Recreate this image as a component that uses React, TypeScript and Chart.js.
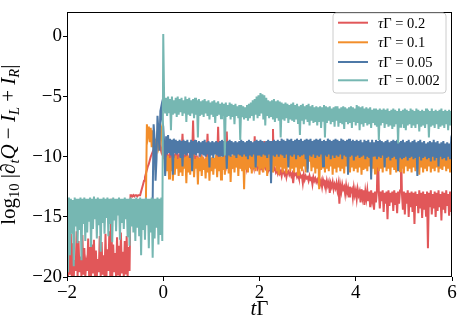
import React, { useEffect, useRef } from 'react';
import { Chart, registerables } from 'chart.js';

Chart.register(...registerables);

// sampling grid of the time axis tΓ
const T_START = -2;
const T_STEP = 0.02;

const xTickValues = [-2, 0, 2, 4, 6];
const yTickValues = [-20, -15, -10, -5, 0];
const seriesLabels = ['0.2', '0.1', '0.05', '0.002'];
const seriesColors = ['#e15759', '#f28e2b', '#4e79a7', '#76b7b2'];

// τΓ = 0.2
const red: (number | null)[] = [
  -17.4, -20.0, -18.0, -19.8, -16.4, -20.0, -17.2, -20.0, -18.6, -19.5, -16.2, -20.0, -17.0, -19.6, -18.3, -20.0, -16.5, -19.8, -17.6, -20.0,
  -18.9, -19.5, -16.8, -20.0, -17.5, -20.0, -17.3, -19.7, -16.9, -20.0, -17.8, -20.0, -18.5, -19.6, -16.6, -20.0, -17.1, -19.8, -18.2, -20.0,
  -16.4, -20.0, -17.7, -19.5, -16.2, -20.0, -13.5, -20.0, -17.3, -19.6, -18.0, -20.0, -16.7, -19.8, -17.4, -20.0, -16.3, -19.7, -17.9, -20.0,
  -17.0, -19.8, -16.6, -20.0, -17.5, -19.5, -13.2, -13.2, -13.3, -13.2, -13.3, -13.2, -13.2, -13.3, -13.2, -13.2, -13.2, -12.9, -12.6, -12.3,
  -12.0, -11.7, -11.4, -11.1, -10.8, -10.6, -10.3, -10.0, -9.8, -9.6, -9.4, -9.2, -9.1, -9.0, -8.9, -8.8, -8.7, -9.3, -9.6, -9.2,
  -8.5, -9.8, -10.2, -9.6, -10.4, -9.9, -10.1, -9.7, -10.3, -9.8, -10.2, -9.9, -10.0, -9.7, -10.4, -9.8, -10.1, -9.9, -10.3, -9.7,
  -8.1, -10.0, -10.2, -9.9, -10.4, -9.8, -10.1, -10.3, -9.9, -10.4, -10.0, -7.0, -10.2, -10.3, -9.9, -10.4, -10.1, -10.5, -10.2, -10.3,
  -10.0, -10.4, -10.2, -10.5, -10.3, -10.1, -8.1, -10.4, -10.2, -10.6, -10.3, -10.5, -10.2, -10.4, -10.6, -10.3, -10.5, -7.5, -10.4, -10.6,
  -10.3, -10.5, -10.2, -10.6, -10.4, -10.7, -7.9, -10.5, -10.6, -10.4, -10.7, -10.5, -10.8, -10.6, -10.5, -10.7, -10.6, -10.8, -10.7, -10.6,
  -10.8, -10.6, -10.9, -10.7, -10.6, -10.8, -10.7, -10.9, -10.6, -10.8, -10.7, -10.9, -10.8, -10.6, -10.9, -8.3, -10.8, -10.7, -11.0, -10.8,
  -10.9, -11.0, -10.8, -11.1, -10.9, -8.7, -11.0, -11.1, -10.9, -11.2, -11.0, -11.1, -11.3, -10.9, -7.7, -11.1, -11.0, -11.3, -11.1, -11.4,
  -11.1, -11.4, -11.2, -11.6, -11.1, -11.3, -11.5, -11.2, -11.7, -11.3, -11.2, -11.5, -11.3, -11.6, -11.4, -12.2, -11.3, -11.5, -11.4, -11.7,
  -11.5, -11.8, -11.4, -11.7, -11.6, -12.2, -11.5, -11.9, -11.6, -11.8, -11.7, -12.0, -11.6, -11.9, -11.8, -12.3, -11.7, -12.0, -11.8, -12.1,
  -11.9, -12.2, -11.8, -12.3, -12.0, -12.5, -11.9, -12.2, -12.1, -12.6, -12.0, -12.4, -12.1, -13.0, -12.2, -12.5, -12.1, -12.7, -12.3, -12.6,
  -12.2, -12.8, -12.3, -13.9, -12.4, -12.9, -12.3, -12.7, -12.5, -13.1, -12.4, -13.0, -12.6, -13.3, -12.5, -12.9, -12.7, -13.4, -12.6, -13.2,
  -12.8, -13.5, -12.7, -13.2, -12.9, -13.8, -12.7, -13.4, -12.8, -14.0, -12.9, -13.5, -12.8, -13.7, -12.9, -14.2, -12.8, -13.6, -13.0, -14.4,
  -12.9, -13.8, -12.8, -8.9, -13.0, -14.3, -12.9, -13.7, -12.8, -14.6, -13.0, -13.9, -12.9, -15.2, -12.8, -14.1, -13.0, -13.8, -12.9, -14.5,
  -12.8, -14.0, -13.0, -14.7, -12.9, -13.9, -12.8, -8.9, -13.1, -14.4, -12.9, -14.8, -13.0, -13.9, -12.8, -15.0, -13.0, -14.2, -12.9, -14.6,
  -13.0, -15.6, -12.9, -14.1, -13.1, -14.7, -12.8, -14.3, -13.0, -15.1, -12.9, -14.4, -13.1, -14.9, -12.9, -17.6, -13.0, -14.2, -12.8, -14.8,
  -13.1, -14.3, -12.9, -15.0, -13.0, -14.5, -12.8, -14.2, -13.1, -15.3, -12.9, -14.4, -13.0, -14.7, -12.8, -14.1, -13.1, -14.9, -12.9, -14.6,
  -13.2,
];

// τΓ = 0.1
const orange: (number | null)[] = [
  null, null, null, null, null, null, null, null, null, null, null, null, null, null, null, null, null, null, null, null,
  null, null, null, null, null, null, null, null, null, null, null, null, null, null, null, null, null, null, null, null,
  null, null, null, null, null, null, null, null, null, null, null, null, null, null, null, null, null, null, null, null,
  null, null, null, null, null, null, null, null, null, null, null, null, null, null, null, null, null, null, null, null,
  null, null, -13.6, -7.3, -8.2, -7.5, -8.8, -7.6, -9.2, -7.8, -9.4, -8.5, -11.1, -8.6, -8.1, -9.3, -9.0, -8.2, -7.8, -9.0,
  -10.2, -9.2, -11.4, -10.0, -11.2, -9.9, -11.8, -10.1, -11.2, -10.0, -12.0, -10.1, -11.5, -9.9, -11.0, -10.2, -11.6, -10.0, -11.3, -9.9,
  -11.6, -10.1, -11.0, -10.0, -12.2, -9.9, -11.3, -10.1, -11.5, -10.0, -11.1, -9.8, -11.7, -10.2, -11.0, -10.0, -12.3, -10.1, -11.2, -9.9,
  -11.6, -10.0, -11.1, -10.2, -11.8, -10.0, -11.3, -9.9, -12.0, -10.1, -11.2, -10.0, -11.5, -10.1, -11.0, -9.8, -11.7, -10.0, -11.2, -9.9,
  -11.9, -10.0, -11.1, -9.7, -11.5, -10.0, -11.0, -9.8, -11.4, -9.7, -12.1, -9.9, -11.0, -9.6, -11.3, -9.8, -10.9, -9.6, -11.6, -9.7,
  -11.0, -9.5, -11.2, -9.7, -12.7, -9.6, -11.0, -9.8, -11.3, -9.5, -10.9, -9.7, -11.4, -9.6, -11.0, -9.5, -11.2, -9.8, -10.8, -9.6,
  -11.5, -9.7, -11.0, -9.5, -11.3, -9.7, -10.9, -9.6, -11.6, -9.5, -11.1, -9.8, -11.0, -9.0, -11.3, -9.6, -10.8, -9.7, -11.2, -9.5,
  -11.5, -9.6, -10.9, -9.4, -11.3, -9.6, -11.0, -9.7, -11.4, -9.5, -10.8, -9.6, -11.2, -9.5, -11.0, -9.7, -11.3, -9.4, -10.9, -9.6,
  -11.5, -9.5, -11.0, -9.6, -11.2, -9.5, -10.8, -9.7, -11.3, -9.6, -11.0, -9.5, -10.4, -9.6, -11.2, -9.5, -10.9, -9.4, -11.4, -9.6,
  -11.0, -9.5, -12.7, -9.6, -11.1, -9.4, -10.9, -9.6, -11.3, -9.5, -11.0, -9.7, -11.2, -9.4, -10.8, -9.6, -11.5, -9.5, -11.0, -9.6,
  -11.3, -9.5, -10.9, -9.7, -11.2, -9.4, -11.0, -9.6, -11.4, -9.5, -10.8, -9.6, -11.1, -9.5, -11.3, -9.7, -10.9, -9.5, -11.2, -9.4,
  -11.0, -9.6, -11.3, -9.5, -10.9, -9.7, -11.5, -9.4, -11.1, -9.6, -11.0, -9.0, -11.2, -9.5, -10.8, -9.6, -11.3, -9.4, -11.0, -9.6,
  -11.4, -9.5, -10.9, -9.6, -11.2, -9.4, -11.0, -9.7, -11.3, -9.5, -10.8, -9.6, -11.2, -9.4, -11.0, -9.6, -11.5, -9.5, -10.9, -9.7,
  -11.1, -9.5, -11.3, -9.4, -10.9, -9.6, -11.2, -9.5, -11.0, -9.7, -11.4, -9.5, -10.8, -9.6, -11.2, -9.4, -11.0, -9.6, -11.3, -9.5,
  -10.9, -9.6, -11.2, -9.5, -11.0, -9.4, -11.5, -9.6, -10.9, -9.5, -11.3, -9.6, -11.0, -9.4, -11.2, -9.6, -10.8, -9.5, -11.3, -9.7,
  -11.0, -9.5, -11.2, -9.6, -10.9, -9.4, -11.3, -9.6, -11.0, -9.5, -11.1, -9.7, -10.8, -9.5, -11.2, -9.6, -11.0, -9.4, -11.3, -9.5,
  -10.4,
];

// τΓ = 0.05
const blue: (number | null)[] = [
  null, null, null, null, null, null, null, null, null, null, null, null, null, null, null, null, null, null, null, null,
  null, null, null, null, null, null, null, null, null, null, null, null, null, null, null, null, null, null, null, null,
  null, null, null, null, null, null, null, null, null, null, null, null, null, null, null, null, null, null, null, null,
  null, null, null, null, null, null, null, null, null, null, null, null, null, null, null, null, null, null, null, null,
  null, null, null, null, null, null, null, null, -13.8, -13.6, -7.3, -8.5, -12.0, -10.2, -6.6, -7.8, -9.5, -6.2, -5.8, -7.0,
  -7.5, -9.0, -11.6, -8.3, -9.8, -8.2, -9.6, -8.5, -9.9, -8.6, -11.5, -8.5, -9.7, -8.6, -9.8, -8.7, -9.7, -8.6, -10.1, -8.7,
  -10.8, -8.6, -9.8, -8.7, -9.9, -8.6, -9.7, -8.8, -10.1, -8.6, -11.2, -8.7, -9.8, -8.6, -9.9, -8.8, -9.7, -8.7, -10.0, -8.8,
  -9.8, -8.7, -9.9, -8.6, -10.0, -8.8, -9.8, -8.7, -10.9, -8.8, -9.9, -8.7, -10.1, -8.8, -9.8, -8.7, -9.9, -8.8, -10.0, -8.7,
  -9.9, -8.6, -10.0, -8.7, -9.8, -8.8, -11.0, -8.7, -9.9, -8.6, -10.0, -8.7, -9.8, -8.8, -9.9, -8.7, -10.1, -8.8, -9.8, -8.7,
  -9.9, -8.6, -10.0, -8.7, -9.8, -8.8, -9.9, -8.7, -10.2, -8.6, -9.9, -8.7, -10.0, -8.8, -9.8, -8.7, -10.9, -8.6, -9.9, -8.7,
  -9.9, -8.6, -10.0, -8.7, -9.8, -8.8, -9.9, -8.7, -10.1, -8.6, -9.8, -8.7, -12.2, -8.7, -9.9, -8.6, -10.0, -8.7, -9.8, -8.6,
  -10.0, -8.7, -9.8, -8.5, -9.9, -8.6, -10.1, -8.7, -9.8, -8.5, -10.9, -8.6, -9.9, -8.5, -10.0, -8.7, -9.8, -8.6, -10.2, -8.5,
  -9.8, -8.6, -10.0, -8.5, -9.9, -8.7, -9.8, -8.6, -10.2, -8.5, -11.3, -8.6, -9.9, -8.5, -10.0, -8.7, -9.8, -8.6, -10.1, -8.5,
  -9.9, -8.6, -10.0, -8.5, -9.8, -8.7, -10.8, -8.6, -9.9, -8.7, -10.0, -8.5, -9.8, -8.6, -10.2, -8.7, -9.9, -8.6, -10.1, -8.5,
  -9.9, -8.6, -10.0, -8.7, -9.8, -8.5, -10.2, -8.6, -9.9, -8.7, -10.0, -8.6, -11.5, -8.5, -10.0, -8.7, -9.9, -8.6, -10.3, -8.7,
  -10.0, -8.6, -9.9, -8.7, -10.1, -8.6, -10.0, -8.8, -9.9, -8.6, -10.2, -8.7, -10.0, -8.6, -10.1, -8.8, -11.9, -8.6, -10.0, -8.8,
  -9.9, -8.6, -10.2, -8.7, -10.0, -8.6, -10.1, -8.7, -9.9, -8.8, -10.9, -8.7, -10.1, -8.6, -10.0, -8.8, -10.3, -8.7, -10.1, -8.6,
  -10.0, -8.7, -10.2, -8.6, -11.2, -8.8, -10.0, -8.7, -10.2, -8.6, -10.1, -8.8, -10.0, -8.7, -10.3, -8.6, -10.1, -8.8, -10.0, -8.7,
  -10.2, -8.6, -10.1, -8.8, -11.6, -8.7, -10.0, -8.6, -10.3, -8.8, -10.1, -8.7, -10.0, -8.9, -10.2, -8.8, -10.1, -8.7, -10.4, -8.8,
  -10.0, -8.6, -10.3, -8.8, -10.1, -8.7, -10.8, -8.9, -10.0, -8.8, -10.2, -8.7, -10.1, -8.9, -10.3, -8.8, -10.0, -8.9, -10.2, -8.8,
  -9.2,
];

// τΓ = 0.002
const teal: (number | null)[] = [
  -13.5, -19.6, -13.4, -18.2, -13.5, -16.4, -13.6, -19.1, -13.4, -15.8, -13.5, -17.2, -13.5, -16.1, -13.4, -18.6, -13.5, -15.6, -13.4, -17.0,
  -13.5, -16.3, -13.5, -15.4, -13.4, -17.5, -13.5, -16.0, -13.3, -15.2, -13.5, -16.8, -13.4, -15.7, -13.5, -17.9, -13.5, -15.5, -13.4, -16.4,
  -13.5, -15.1, -13.4, -16.6, -13.5, -15.6, -13.5, -17.1, -13.4, -15.3, -13.5, -16.2, -13.5, -14.8, -13.4, -16.9, -13.5, -15.5, -13.5, -16.0,
  -13.4, -15.2, -13.5, -16.7, -13.5, -17.4, -13.4, -15.8, -13.5, -16.3, -13.5, -17.0, -13.4, -15.9, -13.5, -16.6, -13.4, -18.2, -13.5, -16.1,
  -13.5, -16.9, -13.4, -15.7, -13.5, -17.6, -13.5, -16.3, -13.4, -18.4, -13.5, -16.8, -13.5, -15.9, -13.4, -17.3, -13.5, -16.5, -13.4, -17.0,
  0.2, -5.6, -6.4, -5.1, -6.6, -5.0, -6.3, -5.2, -7.8, -5.0, -6.5, -5.3, -6.4, -5.1, -6.7, -5.0, -6.5, -5.2, -6.3, -5.1,
  -6.6, -5.3, -6.4, -5.0, -7.1, -5.2, -6.5, -5.1, -6.6, -5.3, -6.4, -5.2, -6.8, -5.1, -6.5, -5.3, -8.4, -5.2, -6.6, -5.4,
  -6.5, -5.3, -6.7, -5.2, -6.4, -5.4, -6.6, -5.3, -6.9, -5.5, -6.5, -5.4, -6.7, -5.3, -7.2, -5.5, -6.6, -5.4, -6.5, -5.6,
  -6.8, -5.5, -6.6, -5.6, -9.9, -5.5, -6.7, -5.7, -6.6, -5.5, -6.9, -5.6, -6.7, -5.7, -7.3, -5.6, -6.6, -5.8, -6.8, -5.7,
  -8.6, -5.7, -6.7, -5.8, -6.9, -5.9, -6.7, -5.7, -7.0, -5.6, -6.8, -5.5, -6.6, -5.3, -7.0, -5.2, -6.5, -5.0, -6.8, -4.9,
  -6.6, -4.7, -6.4, -4.8, -6.9, -4.9, -7.4, -5.1, -6.6, -5.3, -6.8, -5.4, -6.7, -5.3, -6.9, -5.2, -7.1, -5.4, -6.8, -5.3,
  -7.0, -5.4, -8.4, -5.5, -6.9, -5.6, -7.0, -5.5, -6.8, -5.6, -7.2, -5.7, -6.9, -5.6, -7.0, -5.5, -7.1, -5.7, -6.9, -5.6,
  -7.2, -5.8, -8.2, -5.7, -7.0, -5.6, -7.3, -5.8, -6.9, -5.7, -7.1, -5.6, -7.4, -5.8, -7.0, -5.7, -7.2, -5.9, -7.1, -5.8,
  -7.4, -5.9, -7.1, -5.8, -7.6, -5.9, -7.0, -5.7, -8.4, -5.8, -7.2, -5.9, -7.0, -5.8, -7.3, -6.0, -7.1, -5.9, -7.5, -5.8,
  -7.0, -5.8, -7.5, -6.0, -7.2, -5.9, -7.3, -5.8, -7.7, -5.9, -7.1, -6.0, -7.3, -5.9, -7.2, -5.8, -7.6, -5.9, -7.1, -6.0,
  -7.4, -5.7, -7.2, -5.8, -7.8, -5.9, -7.3, -5.8, -7.5, -6.0, -7.2, -5.9, -7.4, -6.0, -7.3, -5.9, -7.6, -6.1, -7.2, -6.0,
  -7.3, -6.0, -7.5, -6.1, -8.6, -6.0, -7.4, -6.1, -7.2, -6.0, -7.6, -6.1, -7.3, -6.0, -7.5, -6.2, -7.4, -6.1, -7.7, -6.0,
  -7.5, -6.1, -7.3, -6.2, -8.9, -6.0, -7.5, -6.2, -7.3, -6.1, -7.6, -6.0, -7.8, -6.1, -7.4, -6.2, -7.3, -6.0, -7.6, -6.1,
  -7.4, -6.2, -7.6, -6.0, -7.3, -6.1, -7.9, -6.2, -7.5, -6.1, -7.4, -6.2, -7.6, -6.0, -7.3, -6.1, -8.4, -6.2, -7.5, -6.0,
  -7.4, -6.2, -7.6, -6.1, -7.3, -6.2, -7.7, -6.1, -7.5, -6.0, -7.4, -6.2, -7.6, -6.1, -7.3, -6.2, -7.8, -6.1, -7.4, -6.2,
  -7.0,
];

const FONT = '"Liberation Serif", "DejaVu Serif", serif';

type Piece = { s: string; it?: boolean; sub?: boolean };

function drawRich(ctx: CanvasRenderingContext2D, pieces: Piece[], size: number, subSize: number, subDy: number, x: number, y: number, align: 'center' | 'left') {
  const fontOf = (p: Piece) => `${p.it ? 'italic ' : ''}${p.sub ? subSize : size}px ${FONT}`;
  let total = 0;
  for (const p of pieces) {
    ctx.font = fontOf(p);
    total += ctx.measureText(p.s).width;
  }
  let cx = align === 'center' ? x - total / 2 : x;
  for (const p of pieces) {
    ctx.font = fontOf(p);
    ctx.fillText(p.s, cx, p.sub ? y + subDy : y);
    cx += ctx.measureText(p.s).width;
  }
}

const decorations = {
  id: 'decorations',
  afterDraw(chart: any) {
    const ctx: CanvasRenderingContext2D = chart.ctx;
    const a = chart.chartArea;
    ctx.save();
    // frame
    ctx.strokeStyle = '#000';
    ctx.lineWidth = 1;
    ctx.strokeRect(Math.floor(a.left) + 0.5, Math.floor(a.top) + 0.5, Math.round(a.right - a.left) - 1, Math.round(a.bottom - a.top) - 1);

    ctx.fillStyle = '#000';
    ctx.textBaseline = 'alphabetic';
    // x title
    drawRich(ctx, [{ s: 't', it: true }, { s: 'Γ' }], 21, 14, 4, (a.left + a.right) / 2, 315, 'center');

    // y title
    ctx.save();
    ctx.translate(15, (a.top + a.bottom) / 2);
    ctx.rotate(-Math.PI / 2);
    drawRich(ctx, [
      { s: 'log' }, { s: '10', sub: true }, { s: ' |∂' }, { s: 't', it: true, sub: true },
      { s: 'Q', it: true }, { s: ' − ' }, { s: 'I', it: true }, { s: 'L', it: true, sub: true },
      { s: ' + ' }, { s: 'I', it: true }, { s: 'R', it: true, sub: true }, { s: '|' },
    ], 21, 14.5, 4, 0, 0, 'center');
    ctx.restore();

    // legend
    const lx = 333, ly = 13, lw = 113, lh = 80, r = 3;
    ctx.beginPath();
    ctx.moveTo(lx + r, ly);
    ctx.lineTo(lx + lw - r, ly);
    ctx.quadraticCurveTo(lx + lw, ly, lx + lw, ly + r);
    ctx.lineTo(lx + lw, ly + lh - r);
    ctx.quadraticCurveTo(lx + lw, ly + lh, lx + lw - r, ly + lh);
    ctx.lineTo(lx + r, ly + lh);
    ctx.quadraticCurveTo(lx, ly + lh, lx, ly + lh - r);
    ctx.lineTo(lx, ly + r);
    ctx.quadraticCurveTo(lx, ly, lx + r, ly);
    ctx.closePath();
    ctx.fillStyle = 'rgba(255,255,255,0.8)';
    ctx.fill();
    ctx.strokeStyle = '#cccccc';
    ctx.lineWidth = 1;
    ctx.stroke();

    const rows = [22.7, 42.3, 62, 80.3];
    seriesLabels.forEach((lab, i) => {
      const y = rows[i];
      ctx.strokeStyle = seriesColors[i];
      ctx.lineWidth = 2;
      ctx.beginPath();
      ctx.moveTo(338, y);
      ctx.lineTo(368, y);
      ctx.stroke();
      ctx.fillStyle = '#000';
      drawRich(ctx, [{ s: 'τ', it: true }, { s: 'Γ' }, { s: ' = ' + lab }], 14.5, 10, 3, 378, y + 5, 'left');
    });
    ctx.restore();
  },
};

export default function App() {
  const ref = useRef<HTMLCanvasElement | null>(null);
  useEffect(() => {
    if (!ref.current) return;
    const toPts = (arr: (number | null)[]) =>
      arr.map((v, i) => ({ x: Math.round((T_START + i * T_STEP) * 100) / 100, y: v }));
    const seriesData = [red, orange, blue, teal];
    const order = [3, 2, 1, 0];
    const chart = new Chart(ref.current, {
      type: 'line',
      data: {
        datasets: seriesData.map((arr, i) => ({
          label: 'τΓ = ' + seriesLabels[i],
          data: toPts(arr) as any,
          borderColor: seriesColors[i],
          backgroundColor: seriesColors[i],
          borderWidth: 2,
          pointRadius: 0,
          tension: 0,
          fill: false,
          order: order[i],
        })),
      },
      options: {
        animation: false,
        responsive: false,
        devicePixelRatio: 1,
        events: [],
        layout: { padding: { top: 6, right: 11, bottom: 0, left: 0 } },
        plugins: { legend: { display: false }, tooltip: { enabled: false } },
        scales: {
          x: {
            type: 'linear',
            min: -2,
            max: 6,
            afterBuildTicks: (s: any) => { s.ticks = xTickValues.map((v) => ({ value: v })); },
            afterFit: (s: any) => { s.height = 49; },
            grid: { drawOnChartArea: false, drawTicks: true, tickLength: 4, color: '#000', lineWidth: 1 },
            border: { display: false },
            ticks: {
              color: '#000',
              padding: 1,
              maxRotation: 0,
              font: { family: FONT, size: 19 },
              callback: (v: any) => String(v).replace('-', '−'),
            },
          },
          y: {
            type: 'linear',
            min: -20,
            max: 2,
            afterBuildTicks: (s: any) => { s.ticks = yTickValues.map((v) => ({ value: v })); },
            afterFit: (s: any) => { s.width = 67; },
            grid: { drawOnChartArea: false, drawTicks: true, tickLength: 4, color: '#000', lineWidth: 1 },
            border: { display: false },
            ticks: {
              color: '#000',
              padding: 1,
              font: { family: FONT, size: 19 },
              callback: (v: any) => String(v).replace('-', '−'),
            },
          },
        },
      },
      plugins: [decorations],
    });
    return () => chart.destroy();
  }, []);
  return (
    <div style={{ position: 'fixed', left: 0, top: 0, width: 463, height: 326, background: '#fff' }}>
      <canvas ref={ref} width={463} height={326} style={{ width: 463, height: 326, display: 'block' }} />
    </div>
  );
}
